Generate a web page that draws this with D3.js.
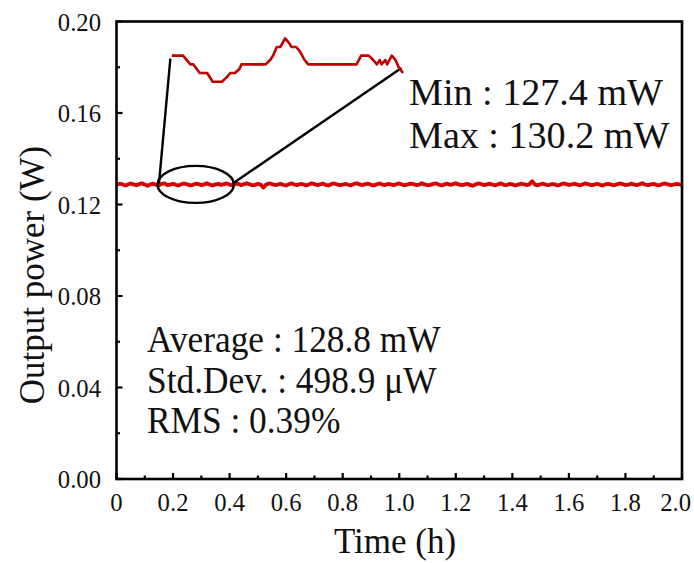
<!DOCTYPE html>
<html>
<head>
<meta charset="utf-8">
<script src="https://cdn.jsdelivr.net/npm/d3@7/dist/d3.min.js"></script>
<style>
  html, body { margin: 0; padding: 0; background: #fff; }
  svg { display: block; }
  text { font-family: "Liberation Serif", "Times New Roman", serif; fill: #111; }
</style>
</head>
<body>
<svg id="chart" width="694" height="563"></svg>
<script>
// Output power logged every 0.01 h over 2 h (mW)
const timeStep = 0.01;
const powerMW = [
  128.6, 129.1, 128.9, 128.3, 128.7, 129.2, 128.8, 128.4, 128.9, 129.3,
  128.7, 128.2, 128.8, 129.1, 128.6, 128.4, 129.0, 129.2, 128.5, 128.7,
  129.1, 128.6, 128.3, 128.9, 129.2, 128.8, 128.4, 128.6, 129.1, 128.9,
  128.5, 128.8, 129.3, 128.7, 128.3, 128.8, 129.0, 128.6, 128.9, 129.2,
  128.7, 128.4, 128.9, 129.1, 128.5, 128.8, 129.3, 128.9, 128.4, 128.6,
  129.0, 128.7, 127.4, 128.8, 129.2, 128.9, 128.5, 128.7, 129.1, 128.6,
  128.3, 128.9, 129.2, 128.7, 128.5, 129.0, 128.8, 128.4, 128.7, 129.3,
  128.9, 128.5, 128.8, 129.1, 128.6, 128.3, 128.9, 129.2, 128.8, 128.5,
  128.7, 129.1, 128.6, 128.4, 129.0, 129.3, 128.8, 128.5, 128.9, 129.1,
  128.6, 128.3, 128.8, 129.2, 128.7, 128.5, 129.0, 128.8, 128.4, 128.9,
  129.2, 128.7, 128.4, 128.8, 129.1, 128.9, 128.5, 128.7, 129.3, 128.8,
  128.4, 128.6, 129.0, 129.2, 128.7, 128.3, 128.8, 129.1, 128.6, 128.9,
  129.3, 128.8, 128.5, 128.7, 129.0, 128.6, 128.2, 128.8, 129.2, 128.9,
  128.5, 128.8, 129.1, 128.7, 128.4, 128.9, 129.2, 128.6, 128.5, 129.0,
  128.8, 128.3, 128.7, 129.1, 128.9, 128.5, 128.8, 130.2, 128.7, 128.4,
  128.9, 129.1, 128.6, 128.5, 129.0, 128.8, 128.3, 128.7, 129.2, 128.9,
  128.6, 128.8, 129.1, 128.7, 128.4, 128.9, 129.2, 128.8, 128.5, 128.7,
  129.1, 128.6, 128.3, 128.9, 129.0, 128.7, 128.4, 128.8, 129.2, 128.9,
  128.5, 128.7, 129.1, 128.8, 128.4, 128.9, 129.3, 128.7, 128.5, 128.8,
  129.0, 128.6, 128.4, 128.9, 129.2, 128.8, 128.5, 128.7, 129.0, 128.8,
  128.7
];

// Close-up of the 0.15–0.40 h stretch, finer sampling (time h, power mW)
const zoomTime = [
  0.152, 0.164, 0.172, 0.175, 0.182, 0.190, 0.196, 0.206, 0.211, 0.215,
  0.220, 0.225, 0.227, 0.253, 0.258, 0.261, 0.265, 0.269, 0.274, 0.278,
  0.281, 0.286, 0.290, 0.295, 0.299, 0.351, 0.356, 0.364, 0.369, 0.373,
  0.376, 0.378, 0.382, 0.384, 0.389, 0.393, 0.396, 0.401
];
const zoomPowerMW = [
  129.0, 129.0, 128.8, 128.8, 128.6, 128.6, 128.4, 128.4, 128.5, 128.6,
  128.6, 128.7, 128.8, 128.8, 128.9, 129.0, 129.2, 129.2, 129.4, 129.3,
  129.2, 129.2, 129.1, 128.9, 128.8, 128.8, 129.0, 129.0, 128.9, 128.8,
  128.9, 128.8, 128.9, 128.8, 129.0, 128.9, 128.75, 128.6
];
const zoomWindow = [0.145, 0.415];

// Axis ticks
const xMajorTicks = [0, 0.2, 0.4, 0.6, 0.8, 1.0, 1.2, 1.4, 1.6, 1.8, 2.0];
const xTickLabels = ["0", "0.2", "0.4", "0.6", "0.8", "1.0", "1.2", "1.4", "1.6", "1.8", "2.0"];
const xMinorTicks = [0.1, 0.3, 0.5, 0.7, 0.9, 1.1, 1.3, 1.5, 1.7, 1.9];
const yMajorTicks = [0, 0.04, 0.08, 0.12, 0.16, 0.20];
const yTickLabels = ["0.00", "0.04", "0.08", "0.12", "0.16", "0.20"];
const yMinorTicks = [0.02, 0.06, 0.10, 0.14, 0.18];

// Summary statistics
const statsLeft = ["Average : 128.8 mW", "Std.Dev. : 498.9 \u03bcW", "RMS : 0.39%"];
const statsRight = ["Min : 127.4 mW", "Max : 130.2 mW"];

const svg = d3.select("#chart");
const plot = { left: 116.5, right: 682, top: 21.5, bottom: 479 };

const x = d3.scaleLinear().domain([0, 2]).range([plot.left, plot.right]);
const y = d3.scaleLinear().domain([0, 0.2]).range([plot.bottom, plot.top]);

const series = powerMW.map((p, i) => ({ t: i * timeStep, w: p / 1000 }));

// Main trace
svg.append("path")
  .datum(series)
  .attr("fill", "none")
  .attr("stroke", "#d80000")
  .attr("stroke-width", 3.8)
  .attr("stroke-linejoin", "round")
  .attr("d", d3.line().x(d => x(d.t)).y(d => y(d.w)));

// Close-up inset scales
const zx = d3.scaleLinear().domain([0.15, 0.40]).range([170, 402]);
const zy = d3.scaleLinear().domain([128.4, 129.4]).range([81.7, 38.3]);
const zoomData = zoomTime.map((t, i) => ({ t, p: zoomPowerMW[i] }));

// Ellipse marking the magnified stretch
const meanW = d3.mean(powerMW) / 1000;
const ex0 = x(zoomWindow[0]), ex1 = x(zoomWindow[1]);
svg.append("ellipse")
  .attr("cx", (ex0 + ex1) / 2)
  .attr("cy", y(meanW))
  .attr("rx", (ex1 - ex0) / 2)
  .attr("ry", 18.5)
  .attr("fill", "none")
  .attr("stroke", "#000")
  .attr("stroke-width", 2.4);

// Leader lines from the ellipse up to the inset
const first = zoomData[0], last = zoomData[zoomData.length - 1];
svg.append("line")
  .attr("x1", ex0 + 1.5).attr("y1", y(meanW) - 1)
  .attr("x2", zx(first.t) - 1.5).attr("y2", zy(first.p) + 3)
  .attr("stroke", "#000").attr("stroke-width", 2.4);
svg.append("line")
  .attr("x1", ex1 - 1).attr("y1", y(meanW) - 1)
  .attr("x2", zx(last.t) - 1.5).attr("y2", zy(last.p) - 5)
  .attr("stroke", "#000").attr("stroke-width", 2.4);

// Inset trace
svg.append("path")
  .datum(zoomData)
  .attr("fill", "none")
  .attr("stroke", "#c00000")
  .attr("stroke-width", 2.6)
  .attr("stroke-linejoin", "round")
  .attr("d", d3.line().x(d => zx(d.t)).y(d => zy(d.p)));

// Frame
const axisColor = "#000";
svg.append("rect")
  .attr("x", plot.left).attr("y", plot.top)
  .attr("width", plot.right - plot.left).attr("height", plot.bottom - plot.top)
  .attr("fill", "none").attr("stroke", axisColor).attr("stroke-width", 2.6);

// Inward ticks on bottom and left
const tickG = svg.append("g").attr("stroke", axisColor).attr("stroke-width", 2.2);
tickG.selectAll(".xmaj").data(xMajorTicks).join("line")
  .attr("x1", d => x(d)).attr("x2", d => x(d))
  .attr("y1", plot.bottom).attr("y2", plot.bottom - 6);
tickG.selectAll(".xmin").data(xMinorTicks).join("line")
  .attr("x1", d => x(d)).attr("x2", d => x(d))
  .attr("y1", plot.bottom).attr("y2", plot.bottom - 3.5);
tickG.selectAll(".ymaj").data(yMajorTicks).join("line")
  .attr("y1", d => y(d)).attr("y2", d => y(d))
  .attr("x1", plot.left).attr("x2", plot.left + 6);
tickG.selectAll(".ymin").data(yMinorTicks).join("line")
  .attr("y1", d => y(d)).attr("y2", d => y(d))
  .attr("x1", plot.left).attr("x2", plot.left + 3.5);

// Text helper with optional horizontal compression
function label(px, py, str, size, anchor, sx) {
  return svg.append("text")
    .attr("transform", `translate(${px},${py}) scale(${sx || 1},1)`)
    .attr("font-size", size)
    .attr("text-anchor", anchor || "start")
    .text(str);
}

// Tick labels (the last one is kept inside the canvas)
xMajorTicks.forEach((v, i) => {
  const lastTick = i === xMajorTicks.length - 1;
  label(lastTick ? 691 : x(v), 511, xTickLabels[i], 26, lastTick ? "end" : "middle", 0.95);
});
yMajorTicks.forEach((v, i) => label(101, y(v) + 9, yTickLabels[i], 26, "end", 0.95));

// Axis titles
label(395, 553, "Time (h)", 35, "middle");
svg.append("text")
  .attr("transform", "translate(44,275) rotate(-90)")
  .attr("font-size", 35)
  .attr("text-anchor", "middle")
  .text("Output power (W)");

// Statistics text
statsRight.forEach((s, i) => label(409, 105 + i * 43, s, 38.5, "start", 0.99));
statsLeft.forEach((s, i) => label(147, 352 + i * 40.5, s, 38, "start", 0.93));
</script>
</body>
</html>
